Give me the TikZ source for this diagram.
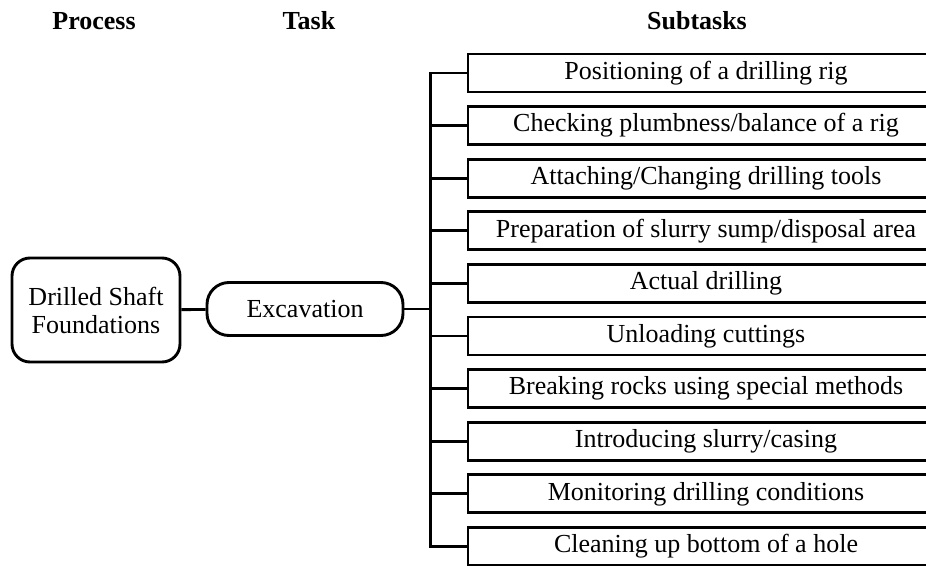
\documentclass[tikz,border=0pt]{standalone}
\usepackage{fontspec}
\setmainfont{Liberation Serif}

\begin{document}
\begin{tikzpicture}[x=1pt,y=-1pt,line width=2.9pt,
    every node/.style={font=\fontsize{26}{28}\selectfont},
    head/.style={font=\fontsize{26}{28}\selectfont\bfseries,anchor=base},
    procbox/.style={draw,rounded corners=18pt,align=center,inner sep=0pt,
        minimum width=168pt,minimum height=104pt},
    taskbox/.style={draw,rounded corners=22pt,inner sep=0pt,
        minimum width=196pt,minimum height=53pt},
    subbox/.style={draw,inner sep=0pt,minimum width=476pt,minimum height=38pt}]
    \useasboundingbox (0,0) rectangle (926,565);
    \clip (0,0) rectangle (926,565);
    % column heads
    \node[head] (hproc) at (94,29) {Process};
    \node[head] (htask) at (309,29) {Task};
    \node[head] (hsub) at (697,29) {Subtasks};
    % process and task
    \node[procbox] (proc) at (96,310) {Drilled Shaft\\Foundations};
    \node[taskbox] (task) at (305,309) {Excavation};
    % subtasks
    \foreach \t [count=\i] in {Positioning of a drilling rig,
        Checking plumbness/balance of a rig,
        Attaching/Changing drilling tools,
        Preparation of slurry sump/disposal area,
        Actual drilling,
        Unloading cuttings,
        Breaking rocks using special methods,
        Introducing slurry/casing,
        Monitoring drilling conditions,
        Cleaning up bottom of a hole}
        \node[subbox] (s\i) at (706,{73+52.6*(\i-1)}) {\t};
    % connectors
    \draw (proc) -- (task);
    \draw (task.east) -- ++(26,0) coordinate (j);
    \draw (s1.west) -| (j |- s10) -- (s10.west);
    \foreach \i in {2,...,9}
        \draw (j |- s\i) -- (s\i.west);
\end{tikzpicture}
\end{document}
